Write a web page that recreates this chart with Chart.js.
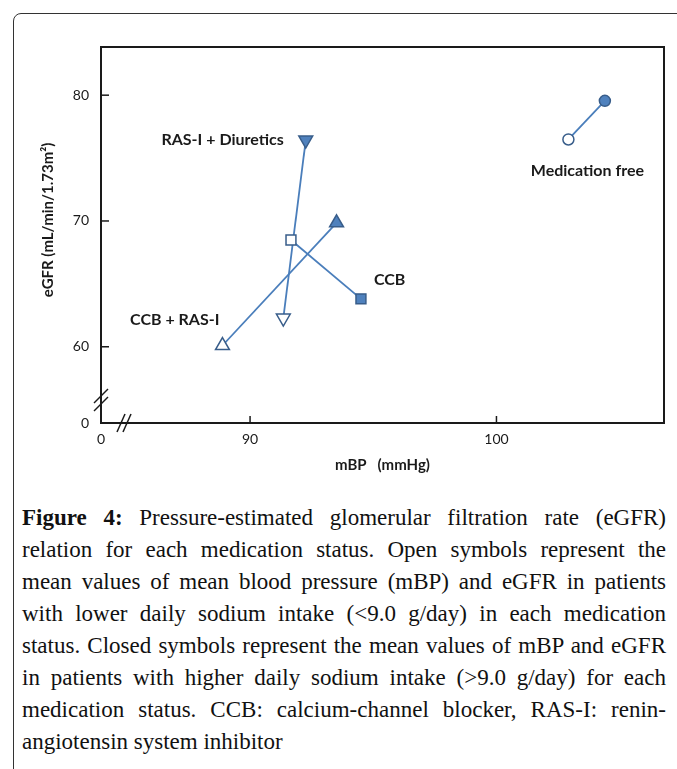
<!DOCTYPE html>
<html>
<head>
<meta charset="utf-8">
<script src="https://cdn.jsdelivr.net/npm/chart.js@4.4.1/dist/chart.umd.min.js"></script>
<style>
  html, body { margin: 0; padding: 0; background: #fff; }
  body { width: 677px; height: 769px; position: relative; overflow: hidden; }
  #frame {
    position: absolute; left: 13px; top: 13px; width: 720px; height: 820px;
    border: 1.5px solid #333; border-radius: 8px; box-sizing: border-box;
  }
  #chart { position: absolute; left: 0; top: 0; }
  #caption {
    position: absolute; left: 22px; top: 502px; width: 644px;
    font-family: "Liberation Serif", "DejaVu Serif", serif; font-size: 23px;
    line-height: 32px; color: #111;
  }
  #caption div { text-align: justify; text-align-last: justify; white-space: nowrap; }
  #caption div.last { text-align-last: left; }
</style>
</head>
<body>
<div id="frame"></div>
<canvas id="chart" width="677" height="500"></canvas>
<div id="caption">
  <div><b>Figure 4:</b> Pressure-estimated glomerular filtration rate (eGFR)</div>
  <div>relation for each medication status. Open symbols represent the</div>
  <div>mean values of mean blood pressure (mBP) and eGFR in patients</div>
  <div>with lower daily sodium intake (&lt;9.0 g/day) in each medication</div>
  <div>status. Closed symbols represent the mean values of mBP and eGFR</div>
  <div>in patients with higher daily sodium intake (&gt;9.0 g/day) for each</div>
  <div>medication status. CCB: calcium-channel blocker, RAS-I: renin-</div>
  <div class="last">angiotensin system inhibitor</div>
</div>
<script>
// medication groups, open symbol = low sodium intake, closed = high sodium intake
const groups = ['Medication free', 'CCB', 'CCB + RAS-I', 'RAS-I + Diuretics'];
const mbpLow = [102.92, 91.66, 88.88, 91.35];
const egfrLow = [76.48, 68.49, 60.10, 62.28];
const mbpHigh = [104.40, 94.50, 93.51, 92.26];
const egfrHigh = [79.55, 63.81, 69.85, 76.43];

const pointStyles = ['circle', 'rect', 'triangle', 'triangle'];
const pointRotations = [0, 0, 0, 180];
const pointSizes = [5.5, 7, 8, 8];

const xTicks = [90, 100];
const yTicks = [60, 70, 80];
const X_MIN = 83.95, X_MAX = 106.8;
const Y_MIN = 53.94, Y_MAX = 83.83;

// label placement: which symbol it hangs off (0 open, 1 closed), pixel offset, alignment
const labelPos = [[0, 19, 31, 'center'], [1, 13, -19, 'left'], [0, -3, -26, 'right'], [1, -22, 0, 'right']];

const LINE = '#4a7ebb';
const FILL = '#4f81bd';
const EDGE = '#385d8a';
const INK = '#1a1a1a';

const datasets = groups.map((g, i) => ({
  label: g,
  data: [{ x: mbpLow[i], y: egfrLow[i] }, { x: mbpHigh[i], y: egfrHigh[i] }],
  showLine: true,
  borderColor: LINE,
  borderWidth: 1.8,
  pointStyle: pointStyles[i],
  pointRotation: pointRotations[i],
  pointRadius: pointSizes[i],
  pointBackgroundColor: ['#ffffff', FILL],
  pointBorderColor: EDGE,
  pointBorderWidth: 1.5
}));

const frameAxes = {
  id: 'frameAxes',
  afterDatasetsDraw(chart) {
    const { ctx, chartArea: a, scales } = chart;
    ctx.save();
    ctx.strokeStyle = INK;
    ctx.lineWidth = 2;
    ctx.strokeRect(a.left, a.top, a.right - a.left, a.bottom - a.top);
    ctx.lineWidth = 1.5;
    // inward tick marks
    xTicks.forEach(v => {
      const px = scales.x.getPixelForValue(v);
      ctx.beginPath(); ctx.moveTo(px, a.bottom); ctx.lineTo(px, a.bottom - 7); ctx.stroke();
    });
    yTicks.forEach(v => {
      const py = scales.y.getPixelForValue(v);
      ctx.beginPath(); ctx.moveTo(a.left, py); ctx.lineTo(a.left + 8, py); ctx.stroke();
    });
    // axis breaks
    [27, 19].forEach(d => {
      const c = a.bottom - d;
      ctx.beginPath(); ctx.moveTo(a.left - 7, c + 7); ctx.lineTo(a.left + 7, c - 7); ctx.stroke();
    });
    [20, 26].forEach(d => {
      const c = a.left + d;
      ctx.beginPath(); ctx.moveTo(c - 4, a.bottom + 9); ctx.lineTo(c + 4, a.bottom - 9); ctx.stroke();
    });
    // group labels
    ctx.fillStyle = INK;
    ctx.font = 'bold 16px Lato';
    ctx.textBaseline = 'middle';
    groups.forEach((g, i) => {
      const [k, dx, dy, al] = labelPos[i];
      const px = scales.x.getPixelForValue(k ? mbpHigh[i] : mbpLow[i]);
      const py = scales.y.getPixelForValue(k ? egfrHigh[i] : egfrLow[i]);
      ctx.textAlign = al;
      ctx.fillText(g, px + dx, py + dy);
    });
    // y axis title
    ctx.translate(48, (a.top + a.bottom) / 2 - 15);
    ctx.rotate(-Math.PI / 2);
    ctx.textAlign = 'center';
    ctx.font = 'bold 15px Lato';
    ctx.fillText('eGFR (mL/min/1.73m²)', 0, 0);
    ctx.restore();
  }
};

new Chart(document.getElementById('chart'), {
  type: 'scatter',
  data: { datasets },
  options: {
    responsive: false,
    animation: false,
    devicePixelRatio: 1,
    layout: { padding: { left: 0, top: 47, right: 13, bottom: 0 } },
    plugins: { legend: { display: false }, tooltip: { enabled: false } },
    scales: {
      x: {
        type: 'linear', min: X_MIN, max: X_MAX,
        afterBuildTicks: s => { s.ticks = [X_MIN].concat(xTicks).map(v => ({ value: v })); },
        afterFit: s => { s.height = 77; },
        grid: { display: false, drawTicks: false },
        border: { display: false },
        ticks: {
          autoSkip: false, maxRotation: 0, padding: 8, color: INK,
          font: { family: 'Lato', size: 14 },
          callback: (v, i) => i === 0 ? '0' : String(v)
        },
        title: {
          display: true, text: 'mBP   (mmHg)', color: INK,
          font: { family: 'Lato', size: 15, weight: 'bold' },
          padding: { top: 0, bottom: 26 }
        }
      },
      y: {
        type: 'linear', min: Y_MIN, max: Y_MAX,
        afterBuildTicks: s => { s.ticks = [Y_MIN].concat(yTicks).map(v => ({ value: v })); },
        afterFit: s => { s.width = 101; },
        grid: { display: false, drawTicks: false },
        border: { display: false },
        ticks: {
          autoSkip: false, padding: 12, color: INK,
          font: { family: 'Lato', size: 14 },
          callback: (v, i) => i === 0 ? '0' : String(v)
        }
      }
    }
  },
  plugins: [frameAxes]
});
</script>
</body>
</html>
